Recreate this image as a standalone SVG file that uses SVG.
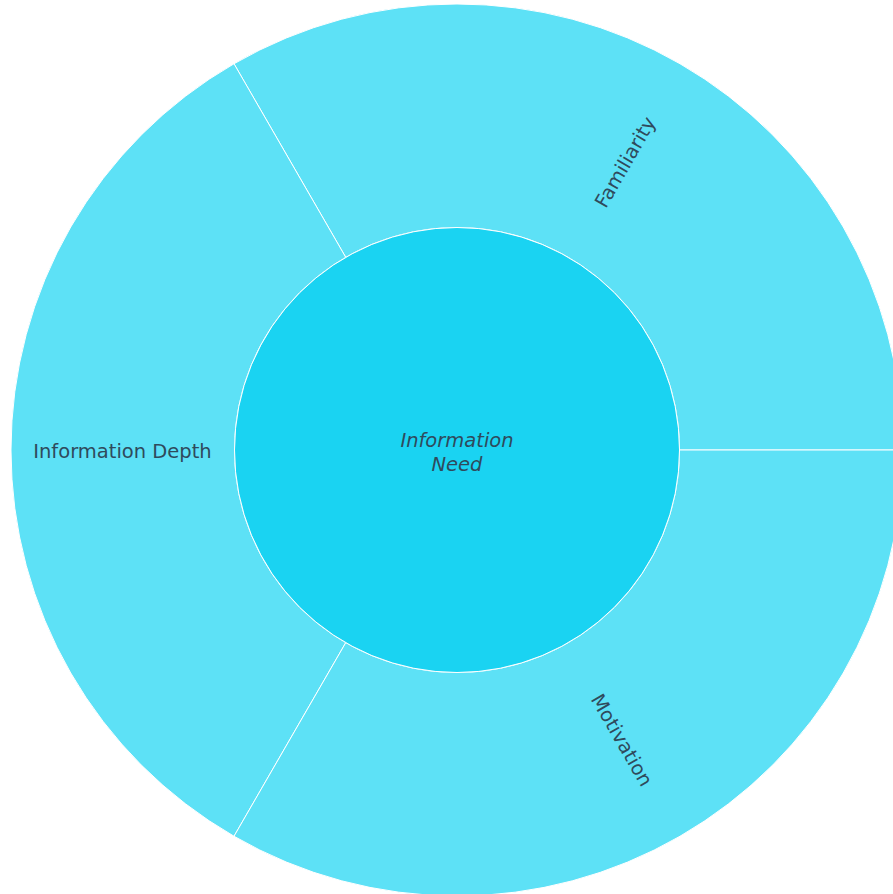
<svg xmlns="http://www.w3.org/2000/svg" width="893" height="894" viewBox="0 0 893 894">
<style>
.outer{fill:#5de1f6;stroke:#ffffff;stroke-width:1}
.inner{fill:#1ad3f2;stroke:#ffffff;stroke-width:1}
.lbl{font-family:"DejaVu Sans",Verdana,sans-serif;font-size:19.5px;fill:#2f4a5c;text-anchor:middle}
</style>
<rect width="893" height="894" fill="#ffffff"/>
<g id="familiarity">
<path class="outer" d="M 679.5 450 L 903 450 A 446 446 0 0 0 234 63.75 L 345.75 257.31 A 222.5 222.5 0 0 1 679.5 450 Z"/>
<text class="lbl" transform="translate(625,162) rotate(-60)" y="7">Familiarity</text>
</g>
<g id="information-depth">
<path class="outer" d="M 345.75 257.31 L 234 63.75 A 446 446 0 0 0 234 836.25 L 345.75 642.69 A 222.5 222.5 0 0 1 345.75 257.31 Z"/>
<text class="lbl" x="122.5" y="458">Information Depth</text>
</g>
<g id="motivation">
<path class="outer" d="M 345.75 642.69 L 234 836.25 A 446 446 0 0 0 903 450 L 679.5 450 A 222.5 222.5 0 0 1 345.75 642.69 Z"/>
<text class="lbl" transform="translate(622,740) rotate(60)" y="7">Motivation</text>
</g>
<g id="information-need">
<circle class="inner" cx="457" cy="450" r="222.5"/>
<text class="lbl" font-style="italic" x="457" y="447">Information</text>
<text class="lbl" font-style="italic" x="457" y="471">Need</text>
</g>
<g id="connectors"></g>
</svg>
